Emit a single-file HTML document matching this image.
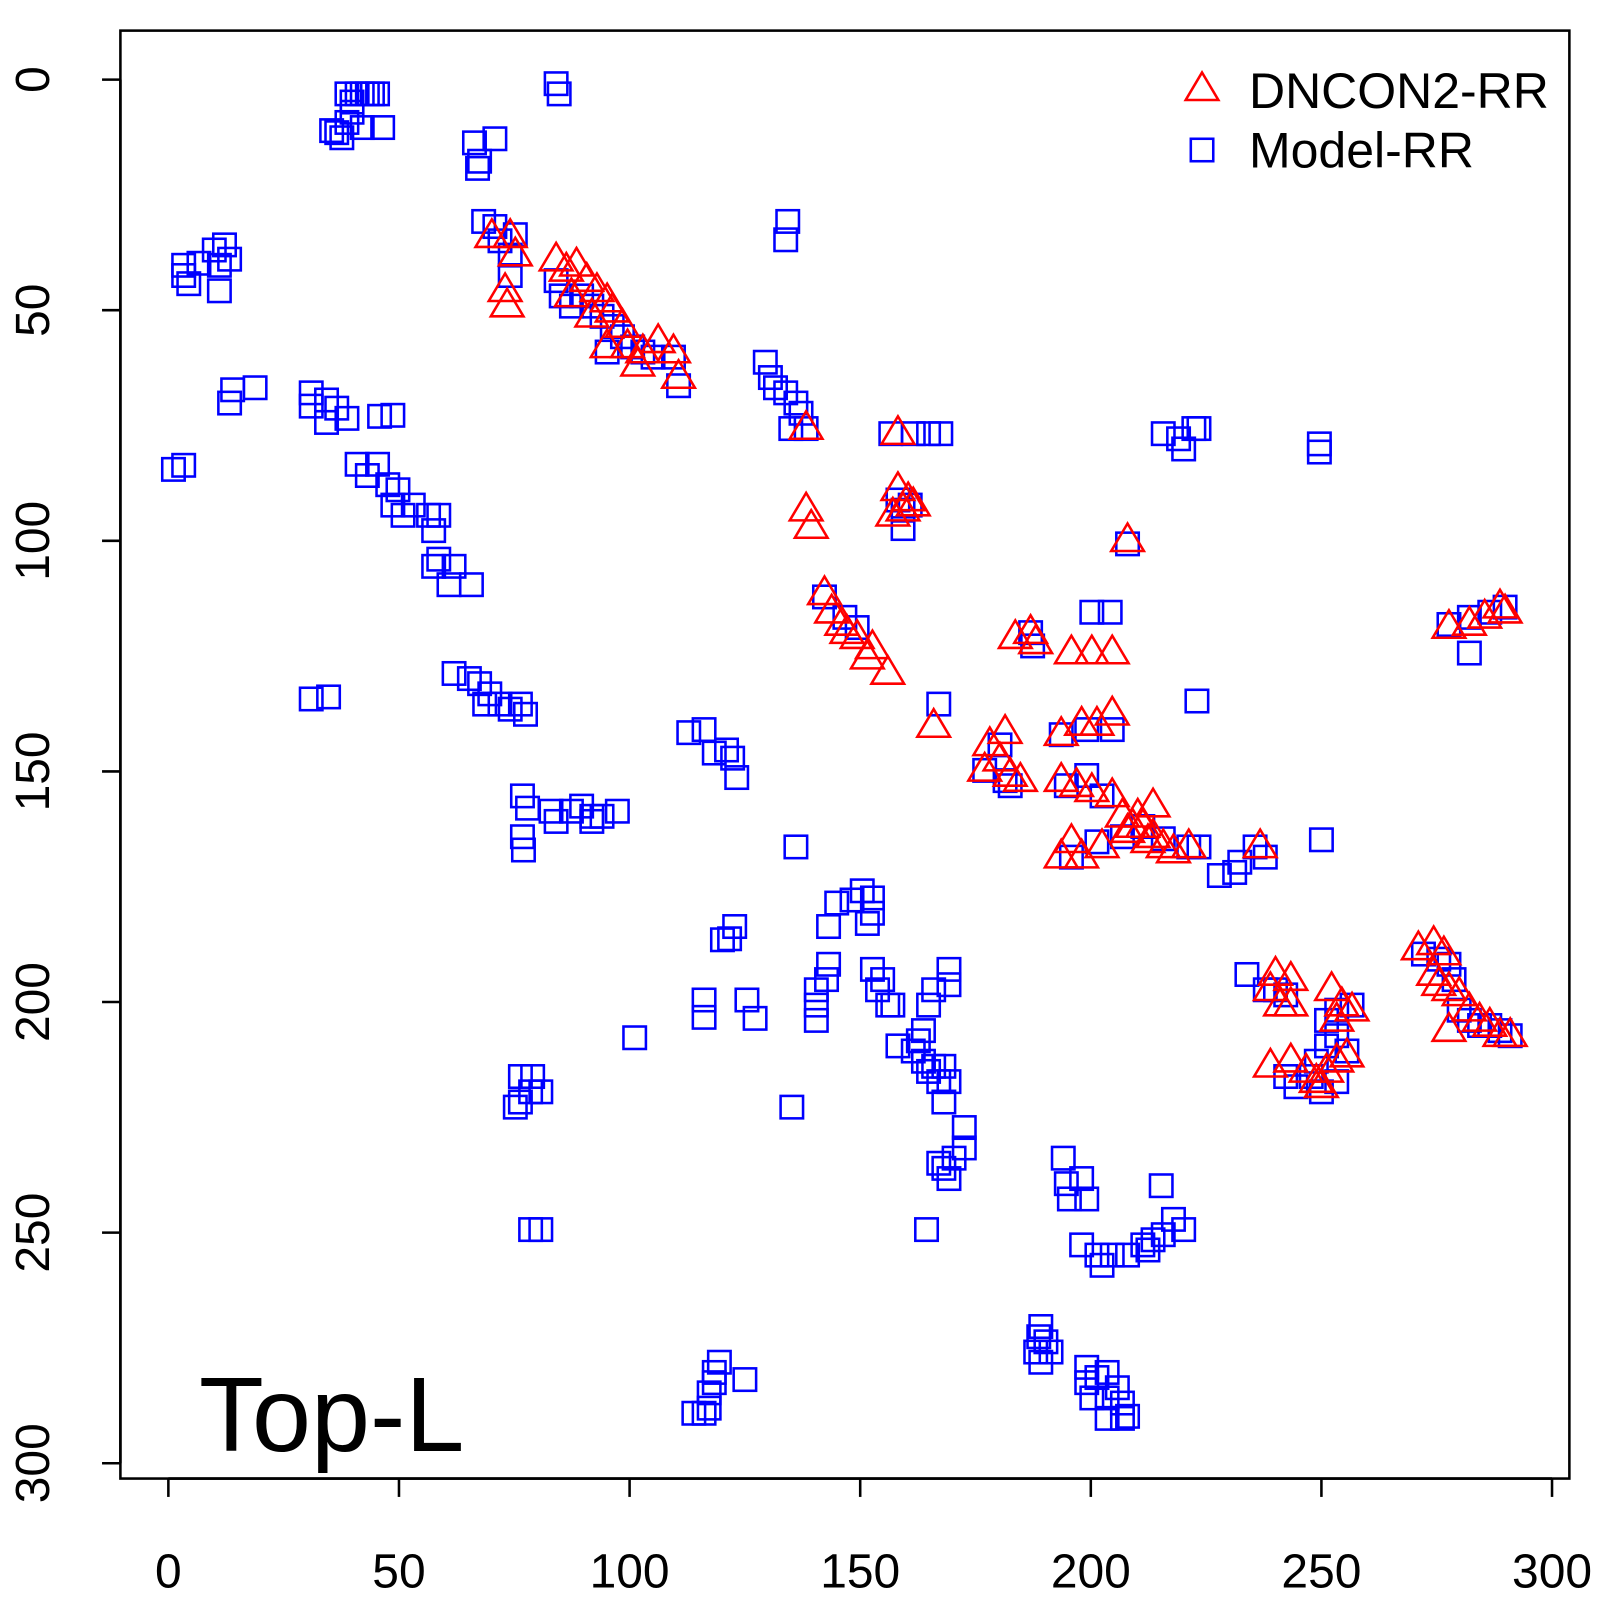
<!DOCTYPE html>
<html><head><meta charset="utf-8"><style>body{margin:0;background:#fff}svg{display:block}</style></head><body>
<svg width="1600" height="1600" xmlns="http://www.w3.org/2000/svg" font-family="Liberation Sans, sans-serif">
<defs>
<rect id="s" x="-11" y="-11" width="22" height="22" fill="none" stroke="#0000ff" stroke-width="2.5"/>
<polygon id="t" points="0,-17 -16,10 16,10" fill="none" stroke="#ff0000" stroke-width="2.5"/>
</defs>
<g transform="scale(1.0204)">
<rect x="118" y="30" width="1420" height="1419" fill="none" stroke="#000" stroke-width="2.5"/>
<g stroke="#000" stroke-width="2.5">
<line x1="165" y1="1449" x2="1521" y2="1449"/>
<line x1="165" y1="1449" x2="165" y2="1467"/><line x1="391" y1="1449" x2="391" y2="1467"/><line x1="617" y1="1449" x2="617" y2="1467"/><line x1="843" y1="1449" x2="843" y2="1467"/><line x1="1069" y1="1449" x2="1069" y2="1467"/><line x1="1295" y1="1449" x2="1295" y2="1467"/><line x1="1521" y1="1449" x2="1521" y2="1467"/>
<line x1="118" y1="78" x2="118" y2="1434"/>
<line x1="100" y1="78" x2="118" y2="78"/><line x1="100" y1="304" x2="118" y2="304"/><line x1="100" y1="530" x2="118" y2="530"/><line x1="100" y1="756" x2="118" y2="756"/><line x1="100" y1="982" x2="118" y2="982"/><line x1="100" y1="1208" x2="118" y2="1208"/><line x1="100" y1="1434" x2="118" y2="1434"/>
</g>
<g font-size="47" text-anchor="middle" fill="#000">
<text x="165" y="1556">0</text><text x="391" y="1556">50</text><text x="617" y="1556">100</text><text x="843" y="1556">150</text><text x="1069" y="1556">200</text><text x="1295" y="1556">250</text><text x="1521" y="1556">300</text>
<text transform="translate(48,78) rotate(-90)">0</text><text transform="translate(48,304) rotate(-90)">50</text><text transform="translate(48,530) rotate(-90)">100</text><text transform="translate(48,756) rotate(-90)">150</text><text transform="translate(48,982) rotate(-90)">200</text><text transform="translate(48,1208) rotate(-90)">250</text><text transform="translate(48,1434) rotate(-90)">300</text>
</g>
<text x="195" y="1422" font-size="104">Top-L</text>
<use href="#t" x="1178" y="88"/><text x="1224" y="106" font-size="49">DNCON2-RR</text>
<use href="#s" x="1178" y="147"/><text x="1224" y="164" font-size="49">Model-RR</text>
<g>
<use href="#s" x="340" y="92"/><use href="#s" x="345" y="100"/><use href="#s" x="350" y="92"/><use href="#s" x="355" y="92"/><use href="#s" x="360" y="92"/><use href="#s" x="365" y="92"/><use href="#s" x="370" y="92"/><use href="#s" x="345" y="110"/><use href="#s" x="340" y="120"/><use href="#s" x="330" y="130"/><use href="#s" x="325" y="128"/><use href="#s" x="335" y="135"/><use href="#s" x="355" y="125"/><use href="#s" x="375" y="125"/>
<use href="#s" x="545" y="82"/><use href="#s" x="548" y="92"/>
<use href="#s" x="465" y="140"/><use href="#s" x="485" y="136"/><use href="#s" x="470" y="158"/><use href="#s" x="468" y="165"/>
<use href="#s" x="180" y="260"/><use href="#s" x="180" y="270"/><use href="#s" x="185" y="278"/><use href="#s" x="195" y="258"/><use href="#s" x="210" y="245"/><use href="#s" x="215" y="260"/><use href="#s" x="215" y="285"/><use href="#s" x="220" y="240"/><use href="#s" x="225" y="254"/>
<use href="#s" x="474" y="217"/><use href="#s" x="485" y="222"/><use href="#s" x="490" y="236"/><use href="#s" x="505" y="230"/><use href="#s" x="500" y="250"/><use href="#s" x="500" y="270"/>
<use href="#s" x="772" y="217"/><use href="#s" x="770" y="235"/>
<use href="#s" x="225" y="395"/><use href="#s" x="250" y="380"/><use href="#s" x="228" y="382"/><use href="#s" x="305" y="385"/><use href="#s" x="305" y="398"/><use href="#s" x="320" y="392"/><use href="#s" x="330" y="400"/><use href="#s" x="340" y="410"/><use href="#s" x="320" y="414"/><use href="#s" x="372" y="408"/><use href="#s" x="385" y="407"/>
<use href="#s" x="170" y="460"/><use href="#s" x="180" y="456"/>
<use href="#s" x="350" y="455"/><use href="#s" x="360" y="466"/><use href="#s" x="370" y="455"/><use href="#s" x="380" y="475"/><use href="#s" x="390" y="480"/><use href="#s" x="385" y="495"/><use href="#s" x="395" y="505"/><use href="#s" x="405" y="495"/><use href="#s" x="420" y="505"/><use href="#s" x="430" y="505"/><use href="#s" x="425" y="520"/><use href="#s" x="430" y="548"/><use href="#s" x="425" y="555"/><use href="#s" x="445" y="555"/><use href="#s" x="440" y="573"/><use href="#s" x="462" y="573"/>
<use href="#s" x="445" y="660"/><use href="#s" x="460" y="665"/><use href="#s" x="470" y="670"/><use href="#s" x="480" y="680"/><use href="#s" x="490" y="690"/><use href="#s" x="500" y="695"/><use href="#s" x="510" y="690"/><use href="#s" x="515" y="700"/><use href="#s" x="475" y="690"/>
<use href="#s" x="305" y="685"/><use href="#s" x="322" y="683"/>
<use href="#s" x="545" y="275"/><use href="#s" x="550" y="290"/><use href="#s" x="560" y="300"/><use href="#s" x="570" y="290"/><use href="#s" x="580" y="300"/><use href="#s" x="590" y="310"/><use href="#s" x="600" y="320"/><use href="#s" x="610" y="330"/><use href="#s" x="620" y="340"/><use href="#s" x="630" y="345"/><use href="#s" x="640" y="350"/><use href="#s" x="660" y="350"/><use href="#s" x="665" y="378"/><use href="#s" x="595" y="345"/>
<use href="#s" x="750" y="355"/><use href="#s" x="755" y="370"/><use href="#s" x="760" y="380"/><use href="#s" x="770" y="385"/><use href="#s" x="780" y="395"/><use href="#s" x="785" y="405"/><use href="#s" x="775" y="420"/><use href="#s" x="790" y="420"/>
<use href="#s" x="873" y="425"/><use href="#s" x="895" y="425"/><use href="#s" x="910" y="425"/><use href="#s" x="922" y="425"/>
<use href="#s" x="880" y="490"/><use href="#s" x="885" y="500"/><use href="#s" x="892" y="495"/><use href="#s" x="885" y="518"/>
<use href="#s" x="1140" y="425"/><use href="#s" x="1155" y="430"/><use href="#s" x="1160" y="440"/><use href="#s" x="1170" y="420"/><use href="#s" x="1175" y="420"/>
<use href="#s" x="1293" y="435"/><use href="#s" x="1293" y="443"/>
<use href="#s" x="1105" y="533"/>
<use href="#s" x="808" y="585"/><use href="#s" x="828" y="605"/><use href="#s" x="840" y="615"/>
<use href="#s" x="1070" y="600"/><use href="#s" x="1088" y="600"/>
<use href="#s" x="1010" y="620"/><use href="#s" x="1012" y="633"/>
<use href="#s" x="920" y="690"/><use href="#s" x="1173" y="687"/>
<use href="#s" x="1420" y="612"/><use href="#s" x="1440" y="640"/><use href="#s" x="1440" y="605"/><use href="#s" x="1460" y="600"/><use href="#s" x="1475" y="595"/>
<use href="#s" x="675" y="718"/><use href="#s" x="690" y="715"/><use href="#s" x="700" y="738"/><use href="#s" x="712" y="735"/><use href="#s" x="718" y="743"/><use href="#s" x="722" y="762"/>
<use href="#s" x="512" y="780"/><use href="#s" x="517" y="792"/><use href="#s" x="512" y="820"/><use href="#s" x="513" y="833"/>
<use href="#s" x="540" y="795"/><use href="#s" x="560" y="795"/><use href="#s" x="570" y="790"/><use href="#s" x="580" y="800"/><use href="#s" x="590" y="800"/><use href="#s" x="605" y="795"/><use href="#s" x="545" y="805"/><use href="#s" x="580" y="805"/>
<use href="#s" x="780" y="830"/>
<use href="#s" x="965" y="755"/><use href="#s" x="985" y="765"/><use href="#s" x="990" y="770"/><use href="#s" x="1040" y="720"/><use href="#s" x="1065" y="715"/><use href="#s" x="1090" y="715"/><use href="#s" x="980" y="730"/>
<use href="#s" x="820" y="885"/><use href="#s" x="835" y="882"/><use href="#s" x="845" y="873"/><use href="#s" x="855" y="880"/><use href="#s" x="855" y="895"/><use href="#s" x="850" y="905"/><use href="#s" x="812" y="908"/>
<use href="#s" x="1045" y="770"/><use href="#s" x="1065" y="760"/><use href="#s" x="1080" y="780"/><use href="#s" x="1100" y="820"/><use href="#s" x="1120" y="810"/><use href="#s" x="1140" y="822"/><use href="#s" x="1165" y="830"/><use href="#s" x="1175" y="830"/><use href="#s" x="1195" y="858"/><use href="#s" x="1210" y="855"/><use href="#s" x="1215" y="845"/><use href="#s" x="1230" y="830"/><use href="#s" x="1240" y="840"/><use href="#s" x="1050" y="840"/><use href="#s" x="1075" y="825"/>
<use href="#s" x="1295" y="823"/>
<use href="#s" x="708" y="921"/><use href="#s" x="715" y="920"/><use href="#s" x="720" y="908"/><use href="#s" x="690" y="980"/><use href="#s" x="690" y="997"/><use href="#s" x="732" y="980"/><use href="#s" x="740" y="998"/><use href="#s" x="622" y="1017"/>
<use href="#s" x="800" y="970"/><use href="#s" x="810" y="960"/><use href="#s" x="800" y="985"/><use href="#s" x="800" y="1000"/><use href="#s" x="812" y="945"/>
<use href="#s" x="855" y="950"/><use href="#s" x="860" y="970"/><use href="#s" x="865" y="960"/><use href="#s" x="870" y="985"/><use href="#s" x="875" y="985"/>
<use href="#s" x="880" y="1025"/><use href="#s" x="895" y="1030"/><use href="#s" x="900" y="1020"/><use href="#s" x="905" y="1040"/><use href="#s" x="910" y="1050"/><use href="#s" x="915" y="1045"/><use href="#s" x="920" y="1060"/><use href="#s" x="925" y="1045"/><use href="#s" x="930" y="1060"/><use href="#s" x="925" y="1080"/><use href="#s" x="910" y="985"/><use href="#s" x="915" y="970"/><use href="#s" x="930" y="950"/><use href="#s" x="930" y="965"/><use href="#s" x="908" y="1205"/><use href="#s" x="905" y="1010"/>
<use href="#s" x="945" y="1105"/><use href="#s" x="945" y="1125"/><use href="#s" x="935" y="1135"/><use href="#s" x="925" y="1145"/><use href="#s" x="920" y="1140"/><use href="#s" x="930" y="1155"/>
<use href="#s" x="776" y="1085"/><use href="#s" x="510" y="1055"/><use href="#s" x="520" y="1070"/><use href="#s" x="530" y="1070"/><use href="#s" x="510" y="1080"/><use href="#s" x="505" y="1085"/><use href="#s" x="522" y="1055"/>
<use href="#s" x="1222" y="955"/><use href="#s" x="1240" y="970"/>
<use href="#s" x="1042" y="1135"/><use href="#s" x="1045" y="1160"/><use href="#s" x="1060" y="1155"/><use href="#s" x="1065" y="1175"/><use href="#s" x="1048" y="1175"/>
<use href="#s" x="1060" y="1220"/><use href="#s" x="1075" y="1230"/><use href="#s" x="1080" y="1240"/><use href="#s" x="1090" y="1230"/><use href="#s" x="1105" y="1230"/><use href="#s" x="1120" y="1220"/><use href="#s" x="1130" y="1215"/><use href="#s" x="1140" y="1210"/><use href="#s" x="1150" y="1195"/><use href="#s" x="1160" y="1205"/><use href="#s" x="1138" y="1162"/><use href="#s" x="1125" y="1225"/>
<use href="#s" x="520" y="1205"/><use href="#s" x="530" y="1205"/>
<use href="#s" x="1020" y="1300"/><use href="#s" x="1025" y="1315"/><use href="#s" x="1015" y="1325"/><use href="#s" x="1020" y="1335"/><use href="#s" x="1030" y="1325"/><use href="#s" x="1018" y="1310"/>
<use href="#s" x="1065" y="1340"/><use href="#s" x="1075" y="1350"/><use href="#s" x="1085" y="1345"/><use href="#s" x="1070" y="1370"/><use href="#s" x="1085" y="1370"/><use href="#s" x="1095" y="1360"/><use href="#s" x="1100" y="1375"/><use href="#s" x="1100" y="1390"/><use href="#s" x="1085" y="1390"/><use href="#s" x="1105" y="1388"/><use href="#s" x="1065" y="1355"/>
<use href="#s" x="700" y="1355"/><use href="#s" x="695" y="1365"/><use href="#s" x="690" y="1385"/><use href="#s" x="680" y="1385"/><use href="#s" x="695" y="1380"/><use href="#s" x="705" y="1335"/><use href="#s" x="730" y="1352"/><use href="#s" x="700" y="1345"/>
<use href="#s" x="1260" y="1055"/><use href="#s" x="1270" y="1065"/><use href="#s" x="1285" y="1055"/><use href="#s" x="1290" y="1040"/><use href="#s" x="1300" y="1025"/><use href="#s" x="1310" y="1015"/><use href="#s" x="1320" y="1030"/><use href="#s" x="1300" y="1000"/><use href="#s" x="1310" y="990"/><use href="#s" x="1325" y="985"/><use href="#s" x="1310" y="1060"/><use href="#s" x="1295" y="1070"/>
<use href="#s" x="1395" y="935"/><use href="#s" x="1410" y="940"/><use href="#s" x="1420" y="945"/><use href="#s" x="1430" y="990"/><use href="#s" x="1440" y="1000"/><use href="#s" x="1450" y="1005"/><use href="#s" x="1460" y="1005"/><use href="#s" x="1470" y="1010"/><use href="#s" x="1480" y="1015"/><use href="#s" x="1425" y="960"/>
<use href="#s" x="1250" y="970"/><use href="#s" x="1260" y="975"/>
</g>
<g>
<use href="#t" x="482" y="232"/><use href="#t" x="500" y="232"/><use href="#t" x="505" y="250"/><use href="#t" x="495" y="285"/><use href="#t" x="497" y="300"/>
<use href="#t" x="545" y="255"/><use href="#t" x="555" y="265"/><use href="#t" x="565" y="260"/><use href="#t" x="575" y="275"/><use href="#t" x="585" y="285"/><use href="#t" x="595" y="295"/><use href="#t" x="600" y="305"/><use href="#t" x="610" y="320"/><use href="#t" x="595" y="340"/><use href="#t" x="615" y="340"/><use href="#t" x="630" y="345"/><use href="#t" x="645" y="335"/><use href="#t" x="660" y="345"/><use href="#t" x="665" y="370"/><use href="#t" x="625" y="358"/><use href="#t" x="560" y="290"/><use href="#t" x="580" y="310"/>
<use href="#t" x="790" y="420"/><use href="#t" x="880" y="425"/><use href="#t" x="790" y="500"/><use href="#t" x="795" y="517"/>
<use href="#t" x="880" y="480"/><use href="#t" x="890" y="490"/><use href="#t" x="885" y="500"/><use href="#t" x="875" y="505"/><use href="#t" x="895" y="495"/>
<use href="#t" x="1105" y="530"/>
<use href="#t" x="808" y="582"/><use href="#t" x="815" y="600"/><use href="#t" x="830" y="620"/><use href="#t" x="840" y="625"/><use href="#t" x="855" y="635"/><use href="#t" x="870" y="660"/><use href="#t" x="915" y="712"/><use href="#t" x="825" y="612"/><use href="#t" x="850" y="645"/>
<use href="#t" x="995" y="625"/><use href="#t" x="1010" y="620"/><use href="#t" x="1015" y="630"/>
<use href="#t" x="1050" y="640"/><use href="#t" x="1070" y="640"/><use href="#t" x="1090" y="640"/>
<use href="#t" x="1040" y="720"/><use href="#t" x="1060" y="710"/><use href="#t" x="1075" y="710"/><use href="#t" x="1090" y="700"/>
<use href="#t" x="965" y="755"/><use href="#t" x="980" y="745"/><use href="#t" x="990" y="760"/><use href="#t" x="1000" y="765"/><use href="#t" x="970" y="730"/><use href="#t" x="985" y="718"/>
<use href="#t" x="1040" y="765"/><use href="#t" x="1055" y="770"/><use href="#t" x="1070" y="775"/><use href="#t" x="1090" y="780"/>
<use href="#t" x="1100" y="800"/><use href="#t" x="1110" y="810"/><use href="#t" x="1120" y="810"/><use href="#t" x="1130" y="820"/><use href="#t" x="1140" y="830"/><use href="#t" x="1150" y="835"/><use href="#t" x="1165" y="830"/><use href="#t" x="1130" y="790"/><use href="#t" x="1115" y="800"/><use href="#t" x="1125" y="825"/><use href="#t" x="1105" y="815"/>
<use href="#t" x="1040" y="840"/><use href="#t" x="1060" y="840"/><use href="#t" x="1080" y="830"/><use href="#t" x="1050" y="825"/>
<use href="#t" x="1235" y="830"/>
<use href="#t" x="1250" y="955"/><use href="#t" x="1265" y="960"/><use href="#t" x="1255" y="985"/><use href="#t" x="1265" y="985"/><use href="#t" x="1245" y="970"/>
<use href="#t" x="1245" y="1045"/><use href="#t" x="1265" y="1040"/><use href="#t" x="1280" y="1050"/><use href="#t" x="1290" y="1060"/><use href="#t" x="1300" y="1050"/><use href="#t" x="1310" y="1040"/><use href="#t" x="1320" y="1035"/><use href="#t" x="1310" y="1000"/><use href="#t" x="1305" y="970"/><use href="#t" x="1315" y="985"/><use href="#t" x="1325" y="990"/><use href="#t" x="1295" y="1065"/>
<use href="#t" x="1390" y="930"/><use href="#t" x="1405" y="925"/><use href="#t" x="1415" y="935"/><use href="#t" x="1410" y="965"/><use href="#t" x="1420" y="970"/><use href="#t" x="1430" y="975"/><use href="#t" x="1440" y="990"/><use href="#t" x="1450" y="1000"/><use href="#t" x="1460" y="1005"/><use href="#t" x="1470" y="1015"/><use href="#t" x="1480" y="1015"/><use href="#t" x="1420" y="1010"/><use href="#t" x="1405" y="955"/>
<use href="#t" x="1420" y="615"/><use href="#t" x="1440" y="612"/><use href="#t" x="1455" y="605"/><use href="#t" x="1470" y="595"/><use href="#t" x="1475" y="600"/>
</g>
</g>
</svg>
</body></html>
